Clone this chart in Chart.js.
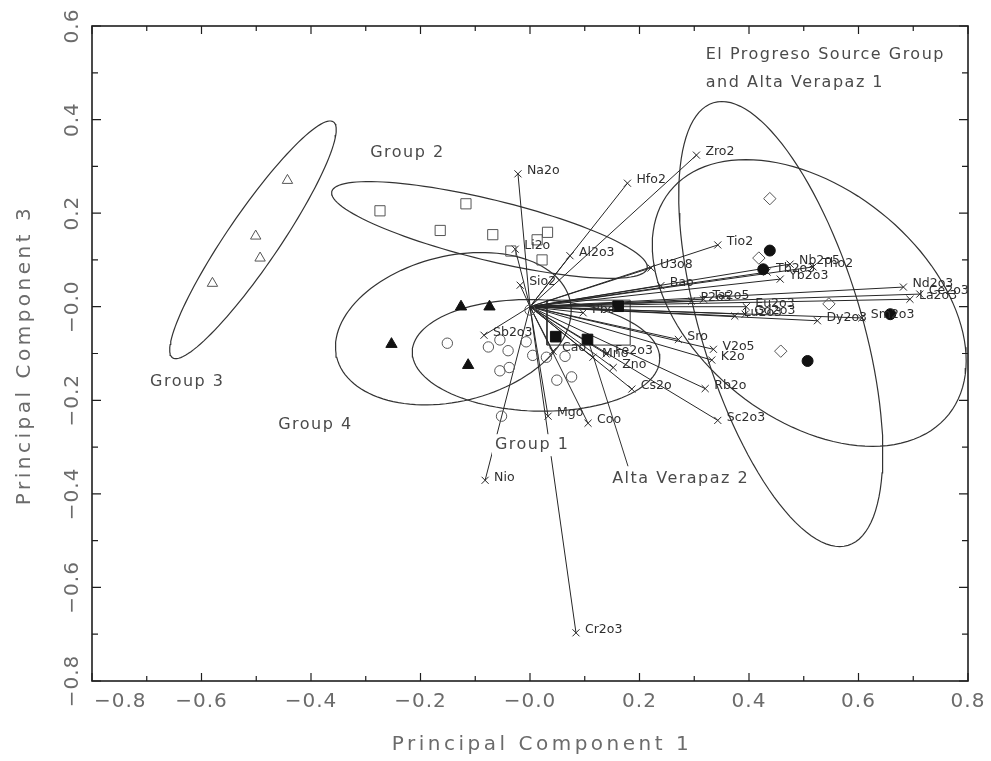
<!DOCTYPE html>
<html>
<head>
<meta charset="utf-8">
<script src="https://cdn.jsdelivr.net/npm/chart.js@4"></script>
<style>
  html, body { margin: 0; padding: 0; background: #ffffff; }
  canvas { display: block; }
</style>
</head>
<body>
<canvas id="biplot" width="991" height="761"></canvas>
<script>
// ---- Variable loadings (arrows from the origin) on PC1 / PC3 ----
const loadingNames = ['Na2o','Hfo2','Zro2','Al2o3','Li2o','Sio2','U3o8','Bao','Tio2','Nb2o5',
  'Tho2','Tb2o3','Yb2o3','Nd2o3','Ce2o3','La2o3','P2o5','Ta2o5','Eu2o3','Gd2o3',
  'Lu2o3','Dy2o3','Sm2o3','Sro','V2o5','K2o','Rb2o','Sc2o3','Cs2o','Zno',
  'Mno','Fe2o3','Cao','Mgo','Coo','Nio','Cr2o3','Sb2o3','Pbo'];
const loadingPC1 = [-0.022, 0.178, 0.304, 0.073, -0.027, -0.018, 0.221, 0.239, 0.343, 0.475,
  0.517, 0.433, 0.457, 0.682, 0.712, 0.694, 0.295, 0.317, 0.395, 0.393,
  0.374, 0.525, 0.606, 0.271, 0.335, 0.332, 0.320, 0.343, 0.186, 0.152,
  0.115, 0.139, 0.042, 0.033, 0.106, -0.082, 0.084, -0.084, 0.097];
const loadingPC3 = [0.284, 0.264, 0.324, 0.109, 0.123, 0.046, 0.083, 0.045, 0.132, 0.091,
  0.085, 0.074, 0.059, 0.042, 0.027, 0.016, 0.012, 0.016, 0.000, -0.016,
  -0.020, -0.030, -0.024, -0.070, -0.091, -0.114, -0.175, -0.243, -0.176, -0.130,
  -0.108, -0.101, -0.095, -0.234, -0.249, -0.371, -0.697, -0.061, -0.013];

// ---- Sample scores by source group ----
const group1PC1 = [-0.151, -0.076, -0.055, -0.040, -0.007, 0.005, 0.030, 0.064, -0.055, -0.038, 0.049, 0.076, -0.052, 0.000];
const group1PC3 = [-0.078, -0.086, -0.071, -0.094, -0.075, -0.104, -0.108, -0.106, -0.137, -0.130, -0.157, -0.150, -0.234, -0.007];
const group2PC1 = [-0.274, -0.117, -0.164, -0.068, 0.032, 0.013, -0.035, 0.022];
const group2PC3 = [0.205, 0.220, 0.163, 0.154, 0.159, 0.143, 0.119, 0.100];
const group3PC1 = [-0.443, -0.501, -0.493, -0.580];
const group3PC3 = [0.270, 0.151, 0.104, 0.050];
const group4PC1 = [-0.126, -0.074, -0.253, -0.113];
const group4PC3 = [0.000, 0.000, -0.080, -0.125];
const altaVerapaz2PC1 = [0.161, 0.047, 0.105];
const altaVerapaz2PC3 = [0.001, -0.064, -0.070];
const elProgresoPC1 = [0.438, 0.418, 0.546, 0.458];
const elProgresoPC3 = [0.231, 0.104, 0.006, -0.095];
const altaVerapaz1PC1 = [0.438, 0.426, 0.658, 0.507];
const altaVerapaz1PC3 = [0.120, 0.080, -0.016, -0.116];

// ---- Group ellipses: centre and two conjugate semi-axes (PC1, PC3 units) ----
// order: Group 3, Group 2, Group 4, Group 1, El Progreso, Alta Verapaz 1
const ellipseCentrePC1 = [-0.506, -0.074, -0.140, 0.011, 0.458, 0.510];
const ellipseCentrePC3 = [0.143, 0.164, -0.047, -0.104, -0.037, 0.008];
const ellipseAxisU1 = [0.147, 0.288, 0.213, 0.226, 0.123, 0.255];
const ellipseAxisU3 = [0.252, -0.082, 0.061, -0.009, -0.473, -0.238];
const ellipseAxisV1 = [0.039, -0.013, 0.031, -0.004, 0.140, -0.131];
const ellipseAxisV3 = [-0.032, -0.063, -0.151, -0.119, 0.050, -0.193];

// ---- Alta Verapaz 2 enclosing box and its label leader ----
const boxPC1 = [0.031, 0.183];
const boxPC3 = [-0.082, 0.014];
const leaderPC1 = [0.109, 0.179];
const leaderPC3 = [-0.082, -0.341];

// ---- Group labels ----
const groupLabelText = ['Group 2', 'Group 3', 'Group 4', 'Group 1', 'Alta Verapaz 2', 'El Progreso Source Group', 'and Alta Verapaz 1'];
const groupLabelPC1 = [-0.292, -0.694, -0.460, -0.064, 0.150, 0.321, 0.321];
const groupLabelPC3 = [0.329, -0.161, -0.253, -0.296, -0.367, 0.539, 0.479];

// ---- Axis ticks ----
const xMajorTicks = [-0.8, -0.6, -0.4, -0.2, 0, 0.2, 0.4, 0.6, 0.8];
const xTickLabels = ['\u22120.8', '\u22120.6', '\u22120.4', '\u22120.2', '\u22120.0', '0.2', '0.4', '0.6', '0.8'];
const xMinorTicks = [-0.7, -0.5, -0.3, -0.1, 0.1, 0.3, 0.5, 0.7];
const yMajorTicks = [-0.8, -0.6, -0.4, -0.2, 0, 0.2, 0.4, 0.6];
const yTickLabels = ['\u22120.8', '\u22120.6', '\u22120.4', '\u22120.2', '\u22120.0', '0.2', '0.4', '0.6'];
const yMinorTicks = [-0.7, -0.5, -0.3, -0.1, 0.1, 0.3, 0.5];

const INK = '#262626';
const FONT = '"DejaVu Sans", "Liberation Sans", sans-serif';

function points(xs, ys) { return xs.map((v, i) => ({ x: v, y: ys[i] })); }

function ellipseOutline(i) {
  const pts = [];
  const n = 120;
  for (let k = 0; k <= n; k++) {
    const t = 2 * Math.PI * k / n;
    pts.push({
      x: ellipseCentrePC1[i] + Math.cos(t) * ellipseAxisU1[i] + Math.sin(t) * ellipseAxisV1[i],
      y: ellipseCentrePC3[i] + Math.cos(t) * ellipseAxisU3[i] + Math.sin(t) * ellipseAxisV3[i]
    });
  }
  return pts;
}

const datasets = [];

// arrows for each variable, ending in an x mark
loadingNames.forEach((name, i) => {
  datasets.push({
    label: name,
    data: [{ x: 0, y: 0 }, { x: loadingPC1[i], y: loadingPC3[i] }],
    showLine: true,
    borderColor: INK,
    borderWidth: 1,
    pointStyle: 'crossRot',
    pointRadius: [0, 5],
    pointBorderColor: INK,
    pointBorderWidth: 1,
    order: 5
  });
});

// group ellipses
ellipseCentrePC1.forEach((c, i) => {
  datasets.push({
    label: 'ellipse' + i,
    data: ellipseOutline(i),
    showLine: true,
    borderColor: '#333333',
    borderWidth: 1.2,
    pointRadius: 0,
    tension: 0,
    order: 6
  });
});

// box around Alta Verapaz 2 and the leader line to its label
datasets.push({
  label: 'box',
  data: [
    { x: boxPC1[0], y: boxPC3[0] }, { x: boxPC1[1], y: boxPC3[0] },
    { x: boxPC1[1], y: boxPC3[1] }, { x: boxPC1[0], y: boxPC3[1] },
    { x: boxPC1[0], y: boxPC3[0] }
  ],
  showLine: true, borderColor: '#333333', borderWidth: 1, pointRadius: 0, order: 6
});
datasets.push({
  label: 'leader',
  data: points(leaderPC1, leaderPC3),
  showLine: true, borderColor: '#333333', borderWidth: 1, pointRadius: 0, order: 6
});

function markerSet(label, xs, ys, style, radius, filled) {
  return {
    label,
    data: points(xs, ys),
    showLine: false,
    pointStyle: style,
    pointRadius: radius,
    pointBorderWidth: 1,
    pointBorderColor: filled ? '#111111' : '#555555',
    pointBackgroundColor: filled ? '#111111' : 'rgba(255,255,255,0)',
    order: 1
  };
}
datasets.push(markerSet('Group 1', group1PC1, group1PC3, 'circle', 5.2, false));
datasets.push(markerSet('Group 2', group2PC1, group2PC3, 'rect', 7.2, false));
datasets.push(markerSet('Group 3', group3PC1, group3PC3, 'triangle', 6, false));
datasets.push(markerSet('Group 4', group4PC1, group4PC3, 'triangle', 6.5, true));
datasets.push(markerSet('Alta Verapaz 2', altaVerapaz2PC1, altaVerapaz2PC3, 'rect', 7.5, true));
datasets.push(markerSet('El Progreso', elProgresoPC1, elProgresoPC3, 'rectRot', 6.2, false));
datasets.push(markerSet('Alta Verapaz 1', altaVerapaz1PC1, altaVerapaz1PC3, 'circle', 5.5, true));

// variable names next to the arrow tips, then the group captions
const loadingLabels = {
  id: 'loadingLabels',
  afterDatasetsDraw(chart) {
    const { ctx, scales: { x, y } } = chart;
    ctx.save();
    ctx.font = '12.5px ' + FONT;
    ctx.fillStyle = '#2e2e2e';
    ctx.textAlign = 'left';
    ctx.textBaseline = 'middle';
    loadingNames.forEach((name, i) => {
      ctx.fillText(name, x.getPixelForValue(loadingPC1[i]) + 9, y.getPixelForValue(loadingPC3[i]) - 3);
    });

    ctx.font = '16px ' + FONT;
    ctx.letterSpacing = '1.5px';
    groupLabelText.forEach((t, i) => {
      const px = x.getPixelForValue(groupLabelPC1[i]);
      const py = y.getPixelForValue(groupLabelPC3[i]);
      const w = ctx.measureText(t).width;
      ctx.fillStyle = '#ffffff';
      ctx.fillRect(px - 3, py - 11, w + 6, 22);
      ctx.fillStyle = '#4a4a4a';
      ctx.fillText(t, px, py);
    });
    ctx.restore();
  }
};

// frame, inward ticks, tick labels and axis titles
const frameAndAxes = {
  id: 'frameAndAxes',
  afterDraw(chart) {
    const { ctx, chartArea: a, scales: { x, y } } = chart;
    ctx.save();
    ctx.strokeStyle = '#1e1e1e';
    ctx.lineWidth = 1.6;
    ctx.strokeRect(a.left, a.top, a.right - a.left, a.bottom - a.top);

    ctx.lineWidth = 1.2;
    ctx.beginPath();
    const xt = (v, len) => {
      const p = x.getPixelForValue(v);
      ctx.moveTo(p, a.bottom); ctx.lineTo(p, a.bottom - len);
      ctx.moveTo(p, a.top); ctx.lineTo(p, a.top + len);
    };
    const yt = (v, len) => {
      const p = y.getPixelForValue(v);
      ctx.moveTo(a.left, p); ctx.lineTo(a.left + len, p);
      ctx.moveTo(a.right, p); ctx.lineTo(a.right - len, p);
    };
    xMajorTicks.forEach(v => xt(v, 8));
    xMinorTicks.forEach(v => xt(v, 5));
    yMajorTicks.forEach(v => yt(v, 9));
    yMinorTicks.forEach(v => yt(v, 6));
    ctx.stroke();

    ctx.fillStyle = '#6b6b6b';
    ctx.font = '20px ' + FONT;
    ctx.letterSpacing = '1px';
    ctx.textAlign = 'center';
    ctx.textBaseline = 'middle';
    xMajorTicks.forEach((v, i) => {
      const w = ctx.measureText(xTickLabels[i]).width;
      const px = Math.max(x.getPixelForValue(v), a.left + w / 2 + 2);
      ctx.fillText(xTickLabels[i], px, a.bottom + 21);
    });
    yMajorTicks.forEach((v, i) => {
      ctx.save();
      ctx.translate(a.left - 19, y.getPixelForValue(v));
      ctx.rotate(-Math.PI / 2);
      ctx.fillText(yTickLabels[i], 0, 0);
      ctx.restore();
    });

    ctx.font = '20px ' + FONT;
    ctx.letterSpacing = '3.5px';
    ctx.fillText('Principal Component 1', 542, 745);
    ctx.save();
    ctx.translate(25, 355);
    ctx.rotate(-Math.PI / 2);
    ctx.fillText('Principal Component 3', 0, 0);
    ctx.restore();
    ctx.restore();
  }
};

new Chart(document.getElementById('biplot'), {
  type: 'scatter',
  data: { datasets },
  options: {
    responsive: false,
    animation: false,
    devicePixelRatio: 1,
    layout: { padding: { left: 92, right: 23, top: 26, bottom: 80 } },
    plugins: { legend: { display: false }, tooltip: { enabled: false } },
    scales: {
      x: { type: 'linear', min: -0.8, max: 0.8, display: false },
      y: { type: 'linear', min: -0.8, max: 0.6, display: false }
    }
  },
  plugins: [loadingLabels, frameAndAxes]
});
</script>
</body>
</html>
